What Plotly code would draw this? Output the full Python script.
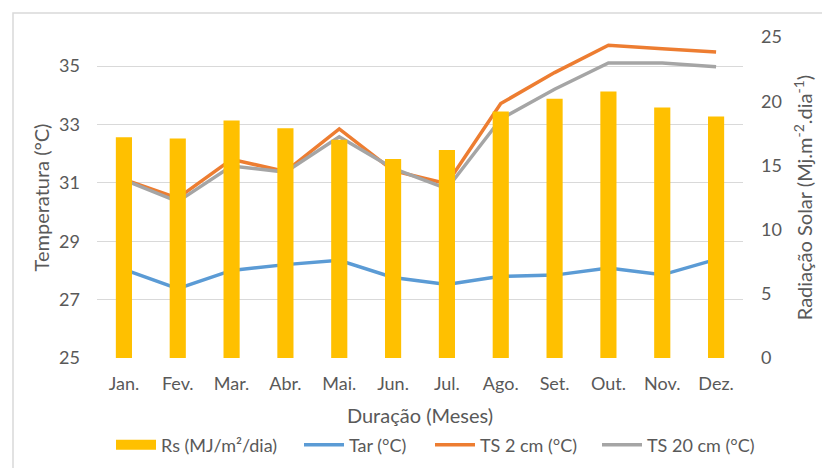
import plotly.graph_objects as go

months = ["Jan.", "Fev.", "Mar.", "Abr.", "Mai.", "Jun.", "Jul.", "Ago.", "Set.", "Out.", "Nov.", "Dez."]
rs = [17.2, 17.1, 18.5, 17.9, 17.0, 15.5, 16.2, 19.2, 20.2, 20.75, 19.5, 18.8]
tar = [28.04, 27.38, 28.0, 28.2, 28.35, 27.76, 27.52, 27.8, 27.84, 28.08, 27.85, 28.38]
ts2 = [31.12, 30.48, 31.81, 31.39, 32.85, 31.42, 30.97, 33.72, 34.78, 35.72, 35.6, 35.49]
ts20 = [31.1, 30.36, 31.58, 31.37, 32.58, 31.5, 30.8, 33.19, 34.21, 35.11, 35.11, 34.98]

FONT = "Lato"
GRAY = "#595959"
TICK = 18
TITLE = 20

# page body has an 8px default margin: figure is drawn 8px right/down
W, H = 822, 460
L, R, T, B = 89, 87, 29, 110
PW = W - L - R
PH = H - T - B

def px(xf):
    return (xf - L) / PW

def py(yf):
    return (H - B - yf) / PH

fig = go.Figure()
fig.add_trace(go.Bar(x=months, y=rs, name="Rs (MJ/m²/dia)", marker_color="#FFC000",
                     marker_line_width=0, yaxis="y2", legendgroup="rs", showlegend=False))
fig.add_trace(go.Scatter(x=[None], y=[None], name="Rs (MJ/m²/dia)", mode="lines",
                         line=dict(color="#FFC000", width=12), legendgroup="rs", yaxis="y2",
                         legend="legend"))
fig.add_trace(go.Scatter(x=months, y=tar, name="Tar (°C)", mode="lines",
                         line=dict(color="#5B9BD5", width=3.5), legend="legend2"))
fig.add_trace(go.Scatter(x=months, y=ts2, name="TS 2 cm (°C)", mode="lines",
                         line=dict(color="#ED7D31", width=3.5), legend="legend3"))
fig.add_trace(go.Scatter(x=months, y=ts20, name="TS 20 cm (°C)", mode="lines",
                         line=dict(color="#A5A5A5", width=3.5), legend="legend4"))

def leg(xfig):
    return dict(orientation="h", xref="container", yref="container",
                x=xfig / W, xanchor="left", y=(H - 437) / H, yanchor="middle",
                font=dict(size=TICK, color=GRAY), itemwidth=40, bgcolor="rgba(0,0,0,0)")

fig.update_layout(
    width=W, height=H,
    margin=dict(l=L, r=R, t=T, b=B, autoexpand=False),
    paper_bgcolor="white", plot_bgcolor="white",
    font=dict(family=FONT, color=GRAY, size=TICK),
    bargap=0.7,
    showlegend=True,
    legend=leg(103), legend2=leg(291), legend3=leg(422), legend4=leg(589),
    xaxis=dict(showgrid=False, showline=False, zeroline=False, ticks="", automargin=False,
               ticklabelstandoff=13, tickfont=dict(size=TICK, color=GRAY),
               title=dict(text="Duração (Meses)", font=dict(size=TITLE, color=GRAY), standoff=15)),
    yaxis=dict(range=[25, 36], tickvals=[25, 27, 29, 31, 33, 35], showgrid=True,
               gridcolor="#D9D9D9", gridwidth=1, zeroline=False, showline=False, automargin=False,
               ticklabelstandoff=16, tickfont=dict(size=TICK, color=GRAY),
               title=dict(text="Temperatura (°C)", font=dict(size=TITLE, color=GRAY), standoff=4)),
    yaxis2=dict(range=[0, 25], tickvals=[0, 5, 10, 15, 20, 25], overlaying="y", side="right",
                showgrid=False, zeroline=False, showline=False, automargin=False,
                ticklabelstandoff=17, tickfont=dict(size=TICK, color=GRAY),
                title=dict(text="Radiação Solar (Mj.m<sup>-2</sup>.dia<sup>-1</sup>)",
                           font=dict(size=TITLE, color=GRAY), standoff=17)),
)

fig.add_shape(type="rect", xref="paper", yref="paper",
              x0=px(5), x1=px(900), y0=py(520), y1=py(5),
              line=dict(color="#D9D9D9", width=1.5), layer="below")

fig.write_html("out.html")
